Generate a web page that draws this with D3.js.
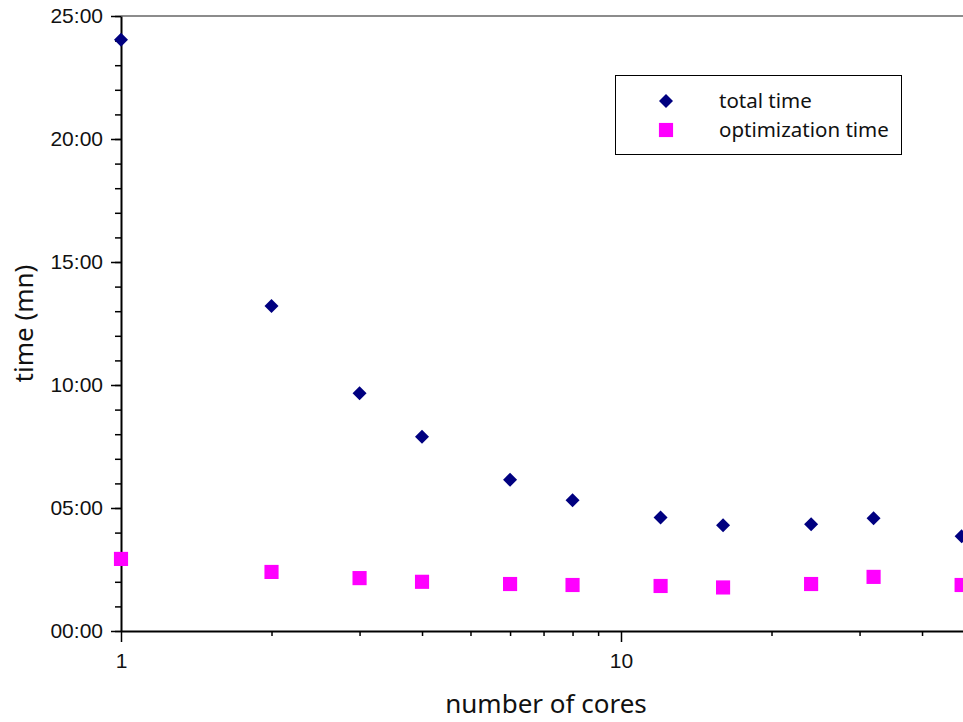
<!DOCTYPE html>
<html>
<head>
<meta charset="utf-8">
<script src="https://cdn.jsdelivr.net/npm/d3@7"></script>
<style>
  body { margin: 0; background: #fff; }
  svg { font-family: "Noto Sans", "Open Sans", sans-serif; }
  .axis path, .axis line { stroke: #000; }
  .axis text { fill: #111; }
</style>
</head>
<body>
<svg id="chart" width="963" height="722"></svg>
<script>
// number of cores (log scale)
const cores = [1, 2, 3, 4, 6, 8, 12, 16, 24, 32, 48];
// times in minutes
const totalTime = [24.03, 13.21, 9.66, 7.9, 6.15, 5.32, 4.61, 4.3, 4.34, 4.58, 3.85];
const optimTime = [2.93, 2.4, 2.15, 2.0, 1.91, 1.87, 1.83, 1.77, 1.91, 2.2, 1.87];
const seriesNames = ["total time", "optimization time"];
const seriesColors = ["#000080", "#ff00ff"];
const yMajorTicks = [0, 5, 10, 15, 20, 25];
const xMajorTicks = [1, 10];

const svg = d3.select("#chart"),
    W = 963, H = 722,
    mLeft = 121, mTop = 16, mBottom = 631;

const x = d3.scaleLog().domain([1, 10]).range([mLeft, mLeft + 500]);
const y = d3.scaleLinear().domain([0, 25]).range([mBottom, mTop]);
const xMax = x.invert(W);

const fmt = d => d3.format("02d")(d) + ":00";

// frame line on top
svg.append("line")
    .attr("x1", mLeft).attr("x2", W)
    .attr("y1", mTop).attr("y2", mTop)
    .attr("stroke", "#8c8c8c").attr("stroke-width", 2);

// minor y ticks
svg.append("g").attr("class", "axis")
    .attr("transform", `translate(${mLeft},0)`)
    .call(d3.axisLeft(y).tickValues(d3.range(0, 26)).tickSize(6).tickFormat(""))
    .call(g => g.select(".domain").remove())
    .selectAll("line").attr("stroke-width", 1.5);

// major y axis
svg.append("g").attr("class", "axis")
    .attr("transform", `translate(${mLeft},0)`)
    .call(d3.axisLeft(y).tickValues(yMajorTicks).tickSize(10).tickSizeOuter(0)
        .tickPadding(8).tickFormat(fmt))
    .call(g => g.select(".domain").attr("stroke-width", 2))
    .call(g => g.selectAll("line").attr("stroke-width", 1.5))
    .call(g => g.selectAll("text").attr("font-size", 21).attr("font-family", null));

// minor x ticks
const xMinor = [];
[1, 10].forEach(dec => d3.range(2, 10).forEach(k => {
    if (k * dec <= xMax) xMinor.push(k * dec);
}));
svg.append("g").attr("class", "axis")
    .attr("transform", `translate(0,${mBottom})`)
    .call(d3.axisBottom(x).tickValues(xMinor).tickSize(5).tickFormat(""))
    .call(g => g.select(".domain").remove())
    .selectAll("line").attr("stroke-width", 1.5);

// major x axis
svg.append("g").attr("class", "axis")
    .attr("transform", `translate(0,${mBottom})`)
    .call(d3.axisBottom(x.copy().domain([1, xMax]).range([mLeft, W]))
        .tickValues(xMajorTicks).tickSize(11).tickSizeOuter(0).tickPadding(11)
        .tickFormat(d3.format("d")))
    .call(g => g.select(".domain").attr("stroke-width", 2))
    .call(g => g.selectAll("line").attr("stroke-width", 1.5))
    .call(g => g.selectAll("text").attr("font-size", 21).attr("font-family", null));

// axis titles
svg.append("text")
    .attr("x", 546).attr("y", 713)
    .attr("text-anchor", "middle")
    .attr("font-size", 26).attr("fill", "#111")
    .text("number of cores");

svg.append("text")
    .attr("transform", `translate(33,${(mTop + mBottom) / 2}) rotate(-90)`)
    .attr("text-anchor", "middle")
    .attr("font-size", 26).attr("fill", "#111")
    .text("time (mn)");

// marks
const diamond = d3.symbol().type(d3.symbolDiamond2).size(125);
const square = d3.symbol().type(d3.symbolSquare).size(200);

const plot = svg.append("g");

plot.selectAll(".opt").data(cores).join("path")
    .attr("class", "opt")
    .attr("d", square)
    .attr("transform", (d, i) => `translate(${x(d)},${y(optimTime[i])})`)
    .attr("fill", seriesColors[1]);

plot.selectAll(".tot").data(cores).join("path")
    .attr("class", "tot")
    .attr("d", diamond)
    .attr("transform", (d, i) => `translate(${x(d)},${y(totalTime[i])})`)
    .attr("fill", seriesColors[0]);

// legend
const legend = svg.append("g").attr("transform", "translate(615,75)");
legend.append("rect")
    .attr("x", 0.5).attr("y", 0.5).attr("width", 286).attr("height", 79)
    .attr("fill", "#fff").attr("stroke", "#000").attr("stroke-width", 1);

const shapes = [diamond, square];
seriesNames.forEach((name, i) => {
    const row = legend.append("g").attr("transform", `translate(0,${26 + i * 29})`);
    row.append("path")
        .attr("d", shapes[i])
        .attr("transform", "translate(51,0)")
        .attr("fill", seriesColors[i]);
    row.append("text")
        .attr("x", 104).attr("y", 0).attr("dy", "0.35em")
        .attr("font-size", 20.5).attr("fill", "#111")
        .text(name);
});
</script>
</body>
</html>
